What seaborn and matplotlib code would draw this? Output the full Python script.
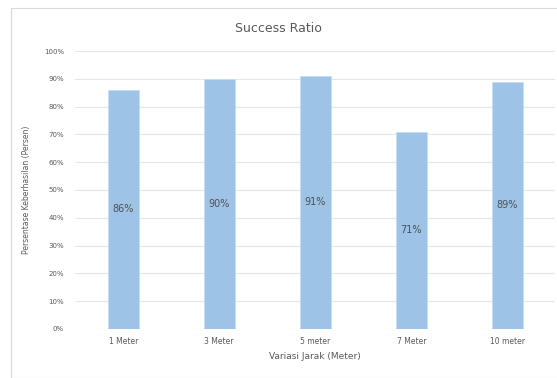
import matplotlib
matplotlib.use("Agg")
import matplotlib.pyplot as plt
import seaborn as sns
import pandas as pd
from matplotlib.patches import Rectangle

categories = ["1 Meter", "3 Meter", "5 meter", "7 Meter", "10 meter"]
values = [86, 90, 91, 71, 89]
yticks = [0, 10, 20, 30, 40, 50, 60, 70, 80, 90, 100]
ytick_labels = [f"{t}%" for t in yticks]

df = pd.DataFrame({"Jarak": categories, "Nilai": values})

sns.set_theme(style="white")
plt.rcParams['font.family'] = ['DejaVu Sans']

fig = plt.figure(figsize=(5.57, 3.78), dpi=100)
ax = fig.add_axes([0.135, 0.13, 0.862, 0.735])

sns.barplot(data=df, x="Jarak", y="Nilai", color="#9DC3E6", saturation=1,
            width=0.32, ax=ax, zorder=3, edgecolor="#C5DDF2", linewidth=0.6)

ax.set_ylim(0, 100)
ax.set_xlim(-0.5, 4.5)
ax.set_yticks(yticks)
ax.set_yticklabels(ytick_labels, fontsize=5, color="#595959")
ax.tick_params(axis="x", labelsize=5.5, colors="#595959", length=0, pad=6)
ax.tick_params(axis="y", length=0, pad=8)
ax.grid(axis="y", color="#E6E6E6", linewidth=0.8, zorder=0)
for s in ax.spines.values():
    s.set_visible(False)

for i, v in enumerate(values):
    ax.text(i, v / 2, f"{v}%", ha="center", va="center", fontsize=7, color="#505050", zorder=4)

ax.set_xlabel("Variasi Jarak (Meter)", fontsize=6.5, color="#595959", labelpad=4)
ax.set_ylabel("Persentase Keberhasilan (Persen)", fontsize=5.5, color="#595959")
ax.yaxis.set_label_coords(-0.092, 0.5)
fig.text(0.5, 0.925, "Success Ratio", ha="center", va="center", fontsize=9, color="#595959")

fig.patches.append(Rectangle((0.02, 0.0), 1.0, 0.98, transform=fig.transFigure,
                             fill=False, edgecolor="#D9D9D9", linewidth=0.8))

fig.savefig("out.png", dpi=100)
